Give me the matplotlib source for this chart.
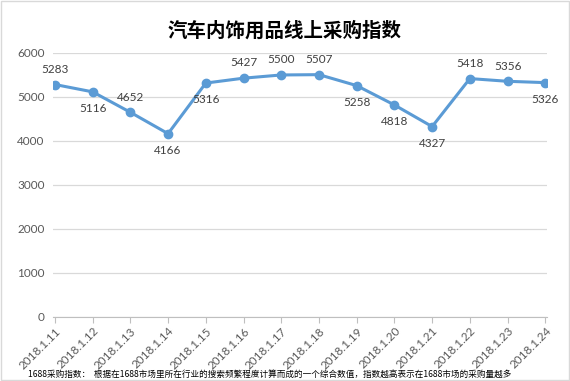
"""Line chart of the online purchasing index for car interior products."""

import matplotlib.pyplot as plt
from matplotlib.patches import Rectangle

dates = [
    "2018.1.11", "2018.1.12", "2018.1.13", "2018.1.14", "2018.1.15", "2018.1.16", "2018.1.17",
    "2018.1.18", "2018.1.19", "2018.1.20", "2018.1.21", "2018.1.22", "2018.1.23", "2018.1.24",
]
index_values = [5283, 5116, 4652, 4166, 5316, 5427, 5500, 5507, 5258, 4818, 4327, 5418, 5356, 5326]
label_above = [True, False, True, False, False, True, True, True, False, False, False, True, True, False]
y_ticks = [0, 1000, 2000, 3000, 4000, 5000, 6000]

title = "汽车内饰用品线上采购指数"
footnote = "1688采购指数：  根据在1688市场里所在行业的搜索频繁程度计算而成的一个综合数值，指数越高表示在1688市场的采购量越多"

plt.rcParams["font.family"] = ["Lato", "Noto Sans CJK SC", "DejaVu Sans"]
line_color = "#5B9BD5"
text_gray = "#595959"

fig = plt.figure(figsize=(5.7, 3.81), dpi=100)
ax = fig.add_axes((0.093, 0.168, 0.867, 0.693))

x = list(range(len(dates)))
ax.plot(x, index_values, color=line_color, linewidth=2.2, marker="o", markersize=6,
        markerfacecolor=line_color, markeredgecolor=line_color)

for xi, val, above in zip(x, index_values, label_above):
    offset = 7 if above else -8
    ax.annotate(str(val), (xi, val), xytext=(0, offset), textcoords="offset points",
                ha="center", va="bottom" if above else "top", fontsize=8.5, color="#404040")

ax.set_xlim(-0.05, len(dates) - 0.95)
ax.set_ylim(0, 6000)
ax.set_yticks(y_ticks)
ax.set_yticklabels([str(t) for t in y_ticks], fontsize=8.5, color=text_gray)
ax.set_xticks(x)
ax.set_xticklabels(dates, rotation=45, ha="right", rotation_mode="anchor", fontsize=8.5, color=text_gray)
ax.tick_params(axis="y", length=0, pad=6)
ax.tick_params(axis="x", length=4, color="#BFBFBF", pad=2)

ax.grid(axis="y", color="#D9D9D9", linewidth=0.9)
ax.set_axisbelow(True)
for side in ["top", "right", "left"]:
    ax.spines[side].set_visible(False)
ax.spines["bottom"].set_color("#BFBFBF")

fig.text(0.5, 0.918, title, ha="center", va="center", fontsize=14, fontweight="bold",
         family=["Noto Sans CJK SC", "DejaVu Sans"])
fig.text(0.049, 0.018, footnote, ha="left", va="center", fontsize=6.2, color="black",
         family=["Noto Sans CJK SC", "DejaVu Sans"])

fig.patches.append(Rectangle((0.002, 0.003), 0.996, 0.994, transform=fig.transFigure,
                             fill=False, edgecolor="#D9D9D9", linewidth=1))

fig.savefig("out.png", dpi=100)
